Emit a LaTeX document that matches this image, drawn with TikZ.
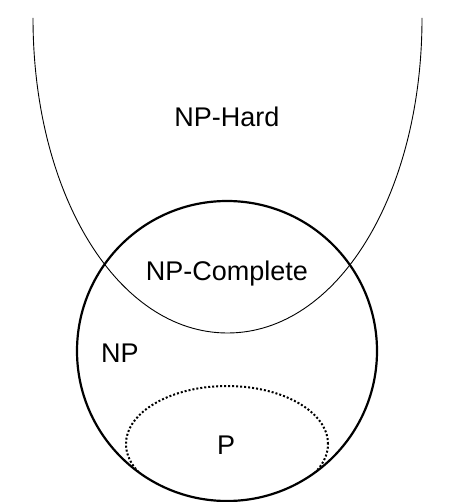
\documentclass[tikz,border=0pt]{standalone}
\usepackage{fontspec}
\setmainfont{Liberation Sans}

\begin{document}
\begin{tikzpicture}[
  x=1pt,y=1pt,
  lab/.style={font=\fontsize{27}{30}\selectfont,anchor=base,inner sep=0pt},
  bowl/.style={line width=0.9pt},
  npline/.style={line width=2.2pt},
  pline/.style={line width=2pt,dash pattern=on 2pt off 2pt}]
\useasboundingbox (0,0) rectangle (450,-502);
% NP-hard bowl
\draw[bowl] (33,-18) .. controls (33,-195) and (118,-333) .. (227.5,-333)
  .. controls (337,-333) and (422,-195) .. (422,-18);
% NP circle, P clipped inside it
\draw[npline] (227,-351) circle[radius=150pt];
\begin{scope}
  \clip (227,-351) circle[radius=149pt];
  \draw[pline] (227,-444) ellipse[x radius=101pt,y radius=58pt];
\end{scope}
\node[lab] (hard) at (227,-126.7) {NP-Hard};
\node[lab] (complete) at (227,-280) {NP-Complete};
\node[lab] (np) at (120,-362.7) {NP};
\node[lab] (p) at (226,-454.5) {P};
\end{tikzpicture}
\end{document}
